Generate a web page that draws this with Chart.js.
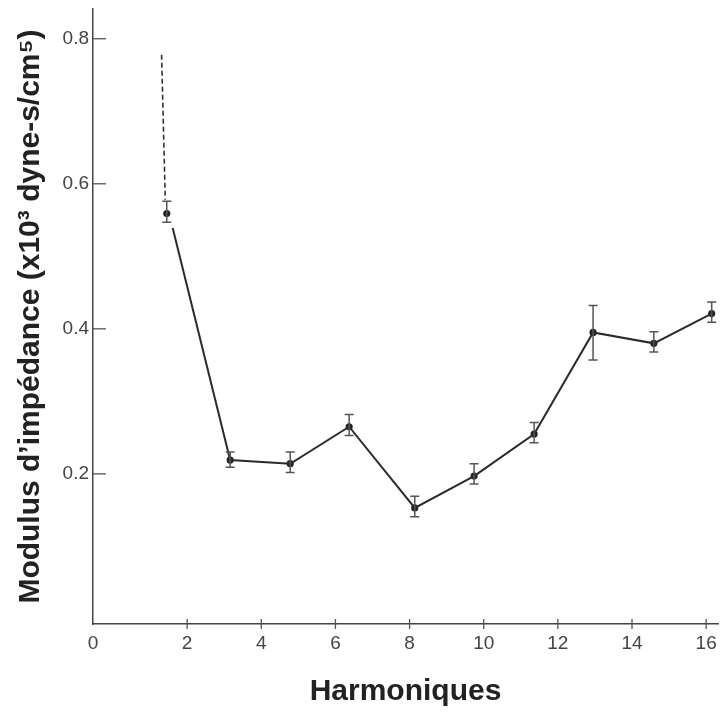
<!DOCTYPE html>
<html lang="fr">
<head>
    <meta charset="UTF-8">
    <title>Modulus d'impédance</title>
    <script src="https://cdn.jsdelivr.net/npm/chart.js"></script>
    <style>
        body { margin: 0; background: #fff; }
        #wrap { width: 720px; height: 713px; }
    </style>
</head>
<body>
    <div id="wrap"><canvas id="myChart"></canvas></div>

    <script>
        // values
        const harmonics = [1.45, 3.16, 4.78, 6.37, 8.14, 9.74, 11.36, 12.95, 14.59, 16.15];
        const modulus   = [0.559, 0.219, 0.214, 0.265, 0.153, 0.197, 0.255, 0.395, 0.380, 0.421];
        const errHigh   = [0.576, 0.230, 0.230, 0.282, 0.169, 0.214, 0.271, 0.432, 0.396, 0.437];
        const errLow    = [0.547, 0.209, 0.202, 0.253, 0.141, 0.186, 0.243, 0.357, 0.368, 0.409];

        // dashed extrapolation above the first harmonic, and where the solid line starts
        const dashX = [1.31, 1.41];
        const dashY = [0.778, 0.578];
        const solidStartX = 1.61;
        const solidStartY = 0.539;

        const xTicks = [2, 4, 6, 8, 10, 12, 14, 16];
        const yTicks = [0.2, 0.4, 0.6, 0.8];
        const X_MIN = -0.54, X_MAX = 16.32;
        const Y_MIN = -0.007, Y_MAX = 0.841;

        const points = harmonics.map((x, i) => ({ x: x, y: modulus[i] }));
        const solidLine = [{ x: solidStartX, y: solidStartY }].concat(points.slice(1));
        const dashLine = dashX.map((x, i) => ({ x: x, y: dashY[i] }));

        // error bars + tick marks, all placed via the chart scales
        const extras = {
            id: 'extras',
            afterDatasetsDraw(chart) {
                const c = chart.ctx;
                const xs = chart.scales.x, ys = chart.scales.y;
                c.save();
                c.strokeStyle = '#555';
                c.lineWidth = 1.5;
                harmonics.forEach((h, i) => {
                    const px = xs.getPixelForValue(h);
                    const top = ys.getPixelForValue(errHigh[i]);
                    const bot = ys.getPixelForValue(errLow[i]);
                    c.beginPath();
                    c.moveTo(px, top); c.lineTo(px, bot);
                    c.moveTo(px - 4.5, top); c.lineTo(px + 4.5, top);
                    c.moveTo(px - 4.5, bot); c.lineTo(px + 4.5, bot);
                    c.stroke();
                });
                c.lineWidth = 1.3;
                const axisY = ys.getPixelForValue(Y_MIN);
                xTicks.forEach(v => {
                    const px = xs.getPixelForValue(v);
                    c.beginPath();
                    c.moveTo(px, axisY - 5); c.lineTo(px, axisY + 5);
                    c.stroke();
                });
                const axisX = xs.getPixelForValue(X_MIN);
                yTicks.forEach(v => {
                    const py = ys.getPixelForValue(v);
                    c.beginPath();
                    c.moveTo(axisX, py); c.lineTo(axisX + 13, py);
                    c.stroke();
                });
                c.restore();
            }
        };

        const ctx = document.getElementById('myChart').getContext('2d');
        const chart = new Chart(ctx, {
            type: 'scatter',
            data: {
                datasets: [
                    {
                        data: dashLine,
                        showLine: true,
                        borderColor: '#333',
                        borderWidth: 1.6,
                        borderDash: [5, 3],
                        pointRadius: 0
                    },
                    {
                        data: solidLine,
                        showLine: true,
                        borderColor: '#2b2b2b',
                        borderWidth: 2,
                        pointRadius: 0,
                        tension: 0
                    },
                    {
                        data: points,
                        backgroundColor: '#222',
                        borderWidth: 0,
                        pointRadius: 3.6
                    }
                ]
            },
            options: {
                responsive: true,
                maintainAspectRatio: false,
                animation: false,
                layout: { padding: { top: 9, right: 2, left: 0, bottom: 0 }, autoPadding: false },
                plugins: { legend: { display: false }, tooltip: { enabled: false } },
                scales: {
                    x: {
                        type: 'linear',
                        min: X_MIN,
                        max: X_MAX,
                        afterBuildTicks: s => { s.ticks = [X_MIN].concat(xTicks).map(v => ({ value: v })); },
                        afterFit: s => { s.height = 89; s.paddingLeft = 0; s.paddingRight = 0; },
                        grid: { display: false, drawTicks: false },
                        border: { display: true, color: '#444', width: 1.5 },
                        ticks: {
                            padding: 8,
                            color: '#444',
                            font: { family: "'Liberation Sans', Arial", size: 19 },
                            callback: v => (v === X_MIN ? '0' : v)
                        },
                        title: {
                            display: true,
                            text: 'Harmoniques',
                            color: '#222',
                            font: { family: "'Liberation Sans', Arial", size: 30, weight: 'bold' },
                            padding: { top: 0, bottom: 3 }
                        }
                    },
                    y: {
                        type: 'linear',
                        min: Y_MIN,
                        max: Y_MAX,
                        afterBuildTicks: s => { s.ticks = yTicks.map(v => ({ value: v })); },
                        afterFit: s => { s.width = 93; s.paddingTop = 0; s.paddingBottom = 0; },
                        grid: { display: false, drawTicks: false },
                        border: { display: true, color: '#444', width: 1.5 },
                        ticks: {
                            padding: 4,
                            color: '#444',
                            font: { family: "'Liberation Sans', Arial", size: 19 },
                            callback: v => v.toFixed(1)
                        },
                        title: {
                            display: true,
                            text: 'Modulus d\u2019impédance (x10³ dyne-s/cm⁵)',
                            color: '#222',
                            font: { family: "'Liberation Sans', Arial", size: 30, weight: 'bold' },
                            padding: { top: 13, bottom: 0 }
                        }
                    }
                }
            },
            plugins: [extras]
        });
    </script>
</body>
</html>
